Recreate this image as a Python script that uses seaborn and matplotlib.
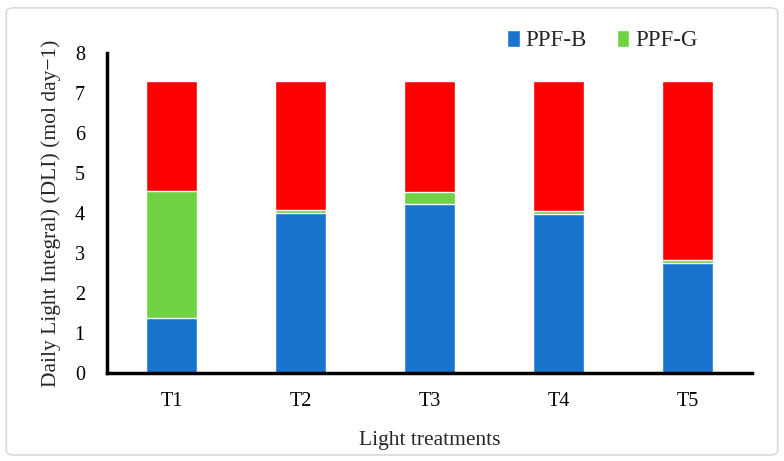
import matplotlib
matplotlib.use("Agg")
import matplotlib.pyplot as plt
import seaborn as sns
import pandas as pd
import numpy as np
from matplotlib.patches import FancyBboxPatch, Patch

categories = ["T1", "T2", "T3", "T4", "T5"]
ppf_b = [1.37, 4.00, 4.22, 3.97, 2.75]
ppf_g = [3.18, 0.08, 0.30, 0.08, 0.07]
ppf_r = [2.75, 3.22, 2.78, 3.25, 4.48]

col_b = "#1874CD"
col_g = "#6FD243"
col_r = "#FF0000"

sns.set_style("white")
plt.rcParams['font.family'] = ['Liberation Serif', 'DejaVu Serif']

df = pd.DataFrame({"cat": categories, "b": ppf_b, "g": ppf_g, "r": ppf_r})
df["bg"] = df["b"] + df["g"]
df["tot"] = df["bg"] + df["r"]

fig = plt.figure(figsize=(7.84, 4.61), dpi=100)
ax = fig.add_axes([0.1365, 0.191, 0.8225, 0.694])

sns.barplot(data=df, x="cat", y="tot", color=col_r, width=0.4, ax=ax, saturation=1)
sns.barplot(data=df, x="cat", y="bg", color=col_g, width=0.4, ax=ax, saturation=1)
sns.barplot(data=df, x="cat", y="b", color=col_b, width=0.4, ax=ax, saturation=1)

ax.set_xlim(-0.5, 4.5)
ax.set_ylim(0, 8)
ax.set_yticks(range(0, 9))
ax.tick_params(axis="both", length=0, labelsize=14.5, colors="black")
ax.tick_params(axis="y", pad=16)
ax.tick_params(axis="x", pad=14)
for s in ["top", "right"]:
    ax.spines[s].set_visible(False)
for s in ["left", "bottom"]:
    ax.spines[s].set_color("black")
    ax.spines[s].set_linewidth(2.5)
ax.set_xlabel("Light treatments", fontsize=15.5, labelpad=14)
ax.set_ylabel("Daily Light Integral) (DLI) (mol day\u22121)", fontsize=15.5, labelpad=10)

handles = [Patch(facecolor=col_b, label="PPF-B"), Patch(facecolor=col_g, label="PPF-G")]
fig.legend(handles=handles, loc="center", bbox_to_anchor=(0.768, 0.912), ncol=2,
           frameon=False, fontsize=16.5, handlelength=0.55, handleheight=0.8,
           handletextpad=0.25, columnspacing=1.3)

border = FancyBboxPatch((0.008, 0.013), 0.984, 0.97, boxstyle="round,pad=0,rounding_size=0.01",
                        transform=fig.transFigure, facecolor="none", edgecolor="#D9D9D9",
                        linewidth=1.2)
fig.patches.append(border)

fig.savefig("out.png", dpi=100)
